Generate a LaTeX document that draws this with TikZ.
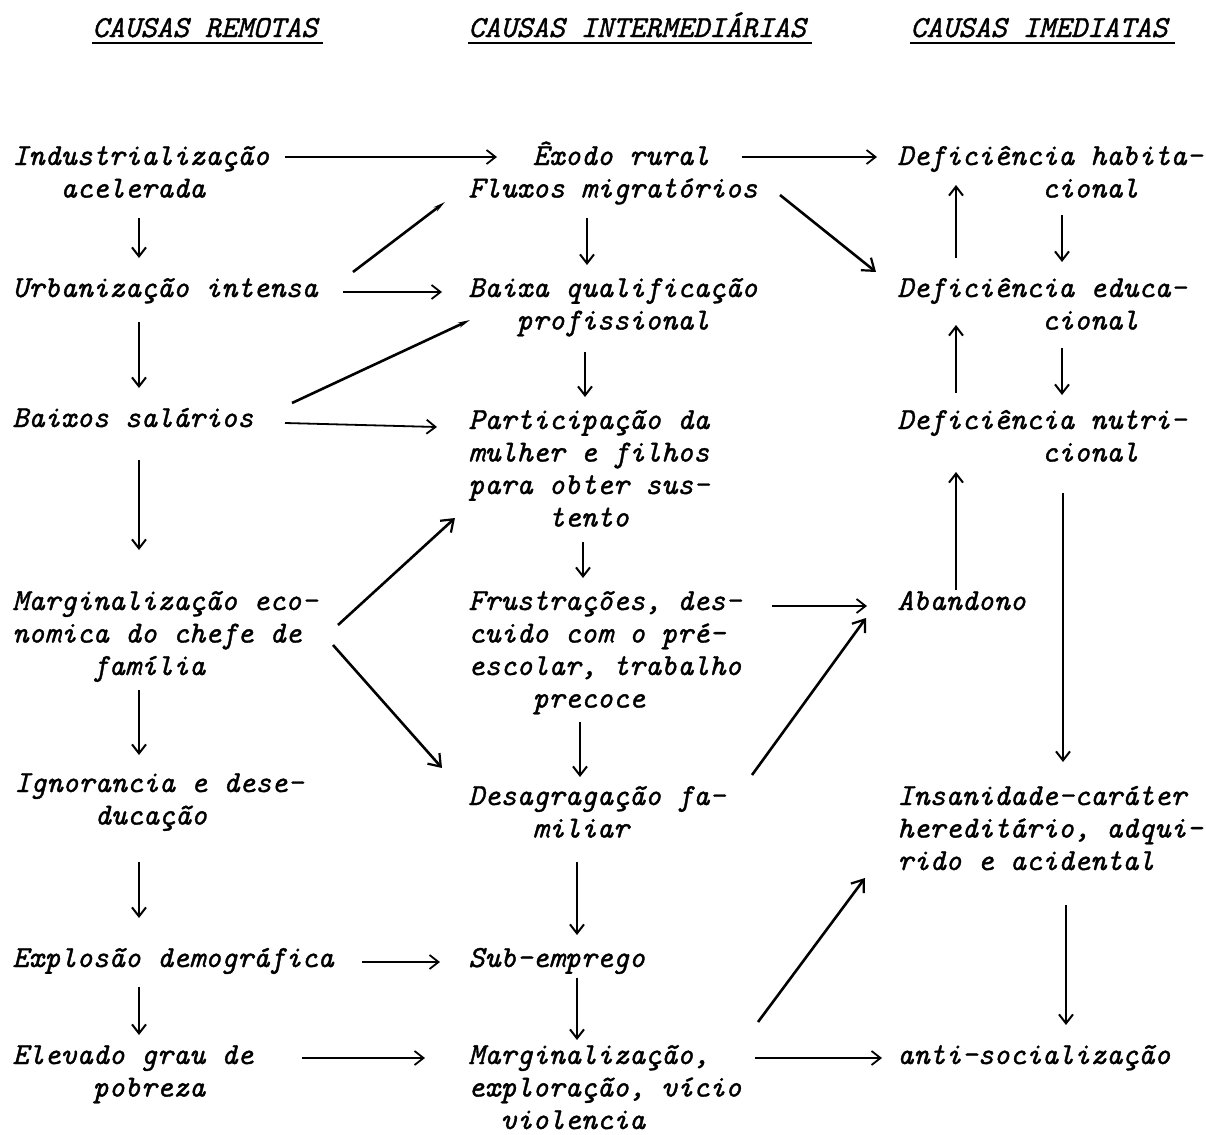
\documentclass[tikz,border=0pt]{standalone}
\usepackage{fontspec}
\usetikzlibrary{arrows.meta}
\newfontfamily\twit[FakeBold=1.2]{lmmono10-italic.otf}
\newcommand\mlines[1]{\begin{tabular}[t]{@{}l@{}}#1\end{tabular}}
\tikzset{
  txt/.style={anchor=base west, inner sep=0pt, font=\twit\fontsize{15.3}{16.25}\selectfont},
  hdr/.style={anchor=base west, inner sep=0pt, font=\twit\fontsize{15.3}{16.25}\selectfont},
  uline/.style={line width=1.4pt},
  arr/.style={line width=0.9pt, -{Straight Barb[length=4.5pt,width=7pt]}},
  varr/.style={line width=1pt, -{Straight Barb[length=4.5pt,width=7pt]}},
  darr/.style={line width=1.3pt, -{Straight Barb[length=5.5pt,width=8pt,line width=1.1pt]}},
  plainln/.style={line width=1.3pt, -{Stealth[length=6pt,width=2.6pt]}},
}
\begin{document}
\begin{tikzpicture}[x=0.5pt,y=-0.5pt]
\useasboundingbox (0,0) rectangle (1206,1135);
% headers
\node[hdr] (h1) at (92,37) {CAUSAS REMOTAS};
\node[hdr] (h2) at (468,37) {CAUSAS INTERMEDIÁRIAS};
\node[hdr] (h3) at (910,37) {CAUSAS IMEDIATAS};
\draw[uline] ([shift={(0,6)}]h1.base west) -- ([shift={(5,6)}]h1.base east);
\draw[uline] ([shift={(0,6)}]h2.base west) -- ([shift={(6,6)}]h2.base east);
\draw[uline] ([shift={(0,6)}]h3.base west) -- ([shift={(7,6)}]h3.base east);
% left column
\node[txt] (ind) at (12,165) {\mlines{Industrialização\\\phantom{xxx}acelerada}};
\node[txt] (urb) at (12,297) {Urbanização intensa};
\node[txt] (bai) at (12,427) {Baixos salários};
\node[txt] (mec) at (12,610) {\mlines{Marginalização eco-\\nomica do chefe de\\\phantom{xxxxx}família}};
\node[txt] (ign) at (14,792) {\mlines{Ignorancia e dese-\\\phantom{xxxxx}ducação}};
\node[txt] (exp) at (12,967) {Explosão demográfica};
\node[txt] (ele) at (12,1064) {\mlines{Elevado grau de\\\phantom{xxxxx}pobreza}};
% middle column
\node[txt] (exo) at (468,165) {\mlines{\phantom{xxxx}Êxodo rural\\Fluxos migratórios}};
\node[txt] (bq) at (468,297) {\mlines{Baixa qualificação\\\phantom{xxx}profissional}};
\node[txt] (par) at (468,429) {\mlines{Participação da\\mulher e filhos\\para obter sus-\\\phantom{xxxxx}tento}};
\node[txt] (fru) at (468,610) {\mlines{Frustrações, des-\\cuido com o pré-\\escolar, trabalho\\\phantom{xxxx}precoce}};
\node[txt] (des) at (468,805) {\mlines{Desagragação fa-\\\phantom{xxxx}miliar}};
\node[txt] (sub) at (468,967) {Sub-emprego};
\node[txt] (mex) at (468,1064) {\mlines{Marginalização,\\exploração, vício\\\phantom{xx}violencia}};
% right column
\node[txt] (dh) at (897,165) {\mlines{Deficiência habita-\\\phantom{xxxxxxxxx}cional}};
\node[txt] (de) at (897,297) {\mlines{Deficiência educa-\\\phantom{xxxxxxxxx}cional}};
\node[txt] (dn) at (897,429) {\mlines{Deficiência nutri-\\\phantom{xxxxxxxxx}cional}};
\node[txt] (ab) at (897,610) {Abandono};
\node[txt] (ins) at (897,805) {\mlines{Insanidade-caráter\\hereditário, adqui-\\rido e acidental}};
\node[txt] (anti) at (897,1064) {anti-socialização};
% left verticals
\draw[varr] ([shift={(127,53)}]ind.base west) -- ([shift={(127,-39)}]urb.base west);
\draw[varr] ([shift={(127,25)}]urb.base west) -- ([shift={(127,-39)}]bai.base west);
\draw[varr] ([shift={(127,33)}]bai.base west) -- ([shift={(127,-60)}]mec.base west);
\draw[varr] ([shift={(127,80)}]mec.base west) -- ([shift={(125,-37)}]ign.base west);
\draw[varr] ([shift={(125,70)}]ign.base west) -- ([shift={(127,-49)}]exp.base west);
\draw[varr] ([shift={(127,20)}]exp.base west) -- ([shift={(127,-29)}]ele.base west);
% middle verticals
\draw[varr] ([shift={(119,53)}]exo.base west) -- ([shift={(119,-32)}]bq.base west);
\draw[varr] ([shift={(117,55)}]bq.base west) -- ([shift={(117,-32)}]par.base west);
\draw[varr] ([shift={(115,113)}]par.base west) -- ([shift={(115,-32)}]fru.base west);
\draw[varr] ([shift={(112,112)}]fru.base west) -- ([shift={(112,-28)}]des.base west);
\draw[varr] ([shift={(109,57)}]des.base west) -- ([shift={(109,-32)}]sub.base west);
\draw[varr] ([shift={(109,11)}]sub.base west) -- ([shift={(109,-24)}]mex.base west);
% right verticals
\draw[varr] ([shift={(59,-39)}]de.base west) -- ([shift={(59,20)}]dh.base west);
\draw[varr] ([shift={(165,50)}]dh.base west) -- ([shift={(165,-35)}]de.base west);
\draw[varr] ([shift={(59,-36)}]dn.base west) -- ([shift={(59,28)}]de.base west);
\draw[varr] ([shift={(165,51)}]de.base west) -- ([shift={(165,-34)}]dn.base west);
\draw[varr] ([shift={(59,-20)}]ab.base west) -- ([shift={(59,43)}]dn.base west);
\draw[varr] ([shift={(166,64)}]dn.base west) -- ([shift={(166,-43)}]ins.base west);
\draw[varr] ([shift={(169,100)}]ins.base west) -- ([shift={(169,-39)}]anti.base west);
% horizontals
\draw[arr] ([shift={(273,-8)}]ind.base west) -- ([shift={(29,-8)}]exo.base west);
\draw[arr] ([shift={(331,-5)}]urb.base west) -- ([shift={(-26,-5)}]bq.base west);
\draw[arr] ([shift={(273,-4)}]bai.base west) -- ([shift={(-31,-2)}]par.base west);
\draw[arr] ([shift={(350,-5)}]exp.base west) -- ([shift={(-28,-5)}]sub.base west);
\draw[arr] ([shift={(290,-6)}]ele.base west) -- ([shift={(-43,-6)}]mex.base west);
\draw[arr] ([shift={(274,-8)}]exo.base west) -- ([shift={(-20,-8)}]dh.base west);
\draw[arr] ([shift={(304,-4)}]fru.base west) -- ([shift={(-30,-4)}]ab.base west);
\draw[arr] ([shift={(287,-6)}]mex.base west) -- ([shift={(-15,-6)}]anti.base west);
% diagonals
\draw[plainln] ([shift={(341,-25)}]urb.base west) -- ([shift={(-23,37)}]exo.base west);
\draw[plainln] ([shift={(280,-24)}]bai.base west) -- ([shift={(2,23)}]bq.base west);
\draw[darr] ([shift={(312,30)}]exo.base west) -- ([shift={(-21,-25)}]de.base west);
\draw[darr] ([shift={(326,15)}]mec.base west) -- ([shift={(-13,89)}]par.base west);
\draw[darr] ([shift={(321,35)}]mec.base west) -- ([shift={(-26,-37)}]des.base west);
\draw[darr] ([shift={(284,-30)}]des.base west) -- ([shift={(-31,8)}]ab.base west);
\draw[darr] ([shift={(290,-42)}]mex.base west) -- ([shift={(-32,73)}]ins.base west);
\end{tikzpicture}
\end{document}
